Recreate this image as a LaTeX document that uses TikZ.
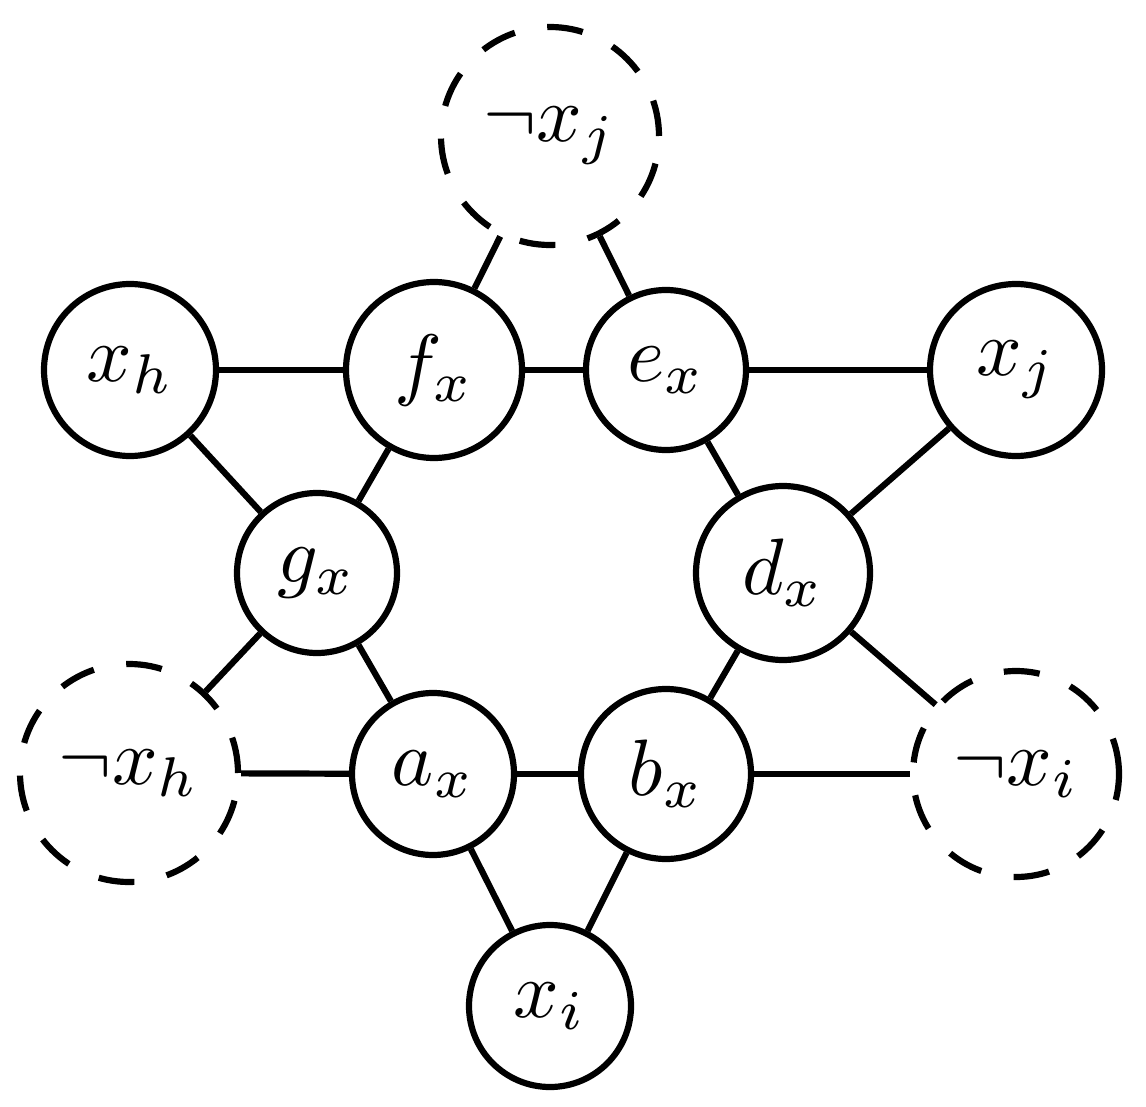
\documentclass[tikz,border=0pt]{standalone}
\usepackage{graphicx}
\newcommand{\lbltxt}[1]{\scalebox{8}{$#1$}}
\tikzset{
  vnode/.style={circle, draw, line width=6.2pt, inner sep=0pt},
  negnode/.style={vnode, dash pattern=on 36pt off 33pt},
  conn/.style={line width=6.2pt}
}
\begin{document}
\begin{tikzpicture}[x=1pt,y=-1pt]
\useasboundingbox (0,0) rectangle (1146,1107);
\node[negnode, minimum size=218pt] (nxj) at (550,136) {\lbltxt{\neg x_j}};
\node[vnode, minimum size=172pt] (xh) at (130,370) {\lbltxt{x_h}};
\node[vnode, minimum size=176pt] (fx) at (434,370) {\lbltxt{f_x}};
\node[vnode, minimum size=160pt] (ex) at (666,370) {\lbltxt{e_x}};
\node[vnode, minimum size=172pt] (xj) at (1016,370) {\lbltxt{x_j}};
\node[vnode, minimum size=160pt] (gx) at (317,573) {\lbltxt{g_x}};
\node[vnode, minimum size=174pt] (dx) at (783,573) {\lbltxt{d_x}};
\node[negnode, minimum size=218pt] (nxh) at (129,773) {\lbltxt{\neg x_h}};
\node[vnode, minimum size=162pt] (ax) at (433,774) {\lbltxt{a_x}};
\node[vnode, minimum size=170pt] (bx) at (666,774) {\lbltxt{b_x}};
\node[negnode, minimum size=206pt] (nxi) at (1016,774) {\lbltxt{\neg x_i}};
\node[vnode, minimum size=162pt] (xi) at (550,1006) {\lbltxt{x_i}};
\draw[conn] (xh) -- (fx);
\draw[conn] (fx) -- (ex);
\draw[conn] (ex) -- (xj);
\draw[conn] (xh) -- (gx);
\draw[conn] (fx) -- (gx);
\draw[conn] (fx) -- (nxj);
\draw[conn] (ex) -- (nxj);
\draw[conn] (ex) -- (dx);
\draw[conn] (xj) -- (dx);
\draw[conn] (gx) -- (ax);
\draw[conn] (gx) -- (nxh);
\draw[conn] (nxh) -- (ax);
\draw[conn] (ax) -- (bx);
\draw[conn] (bx) -- (nxi);
\draw[conn] (dx) -- (bx);
\draw[conn] (dx) -- (nxi);
\draw[conn] (ax) -- (xi);
\draw[conn] (bx) -- (xi);
\end{tikzpicture}
\end{document}
